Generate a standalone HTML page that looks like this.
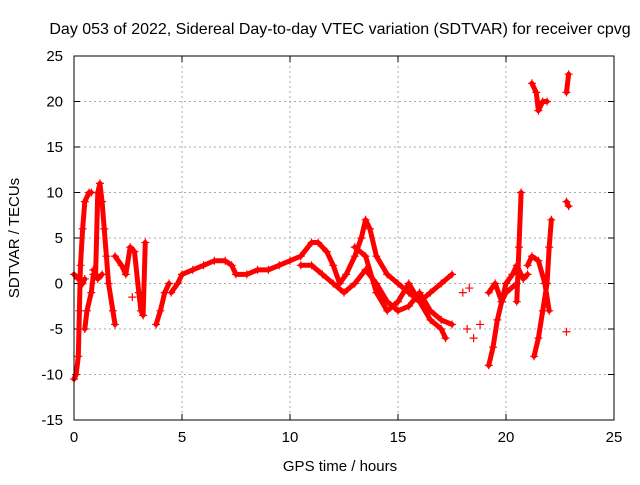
<!DOCTYPE html>
<html><head><meta charset="utf-8"><style>
body{margin:0;background:#fff}
svg{font-family:"Liberation Sans",sans-serif}
</style></head><body>
<svg id="chart" width="640" height="480">
<rect width="640" height="480" fill="#fff"/>
<text x="340" y="34" font-size="16" text-anchor="middle">Day 053 of 2022, Sidereal Day-to-day VTEC variation (SDTVAR) for receiver cpvg</text>
<text x="340" y="471" font-size="15" text-anchor="middle">GPS time / hours</text>
<text x="0" y="0" font-size="15" text-anchor="middle" transform="translate(19,238) rotate(-90)">SDTVAR / TECUs</text>
<g id="grid"></g>
<g id="ticks"></g>
<g id="marks"></g>
<rect x="74" y="56" width="540" height="364" fill="none" stroke="#000"/>
</svg>
<script>
const xTicks=[0,5,10,15,20,25];
const yTicks=[-15,-10,-5,0,5,10,15,20,25];
const tracks=[
[[0,-10.5],[0.1,-10],[0.2,-8],[0.25,-3],[0.3,2],[0.4,6],[0.5,9],[0.7,10],[0.8,10]],
[[0,1],[0.2,0.5],[0.4,0],[0.5,0.5]],
[[0.5,-5],[0.6,-3],[0.8,-1],[0.9,1],[1.0,1],[1.1,10],[1.2,11],[1.3,9],[1.4,6],[1.5,3],[1.6,0],[1.8,-3],[1.9,-4.5]],
[[0.9,1.5],[1.1,0.5],[1.3,1]],
[[1.9,3],[2.2,2],[2.4,1],[2.6,4],[2.8,3.5],[3.0,-1],[3.1,-3],[3.2,-3.5],[3.3,4.5]],
[[3.8,-4.5],[4.0,-3],[4.2,-1],[4.4,0]],
[[4.5,-1],[4.8,0],[5,1],[5.5,1.5],[6,2],[6.5,2.5],[7,2.5],[7.3,2],[7.5,1],[8,1],[8.5,1.5],[9,1.5],[9.5,2],[10,2.5],[10.5,3],[11,4.5],[11.3,4.5],[11.7,3.5],[12,2],[12.3,0],[12.6,1],[13,3],[13.3,5],[13.5,7],[13.7,6],[14,3],[14.5,1],[15,0],[15.5,-1],[16,-2],[16.5,-1],[17,0],[17.5,1]],
[[10.5,2],[11,2],[11.5,1],[12,0],[12.5,-1],[13,0],[13.5,1.5],[14,0],[14.5,-2],[15,-3],[15.5,-2.5],[16,-1],[16.5,-3],[17,-4],[17.5,-4.5]],
[[13,4],[13.5,3],[14,-1],[14.5,-3],[15,-2],[15.5,0],[16,-2],[16.5,-4],[17,-5],[17.2,-6]],
[[19.2,-9],[19.4,-7],[19.6,-4],[19.8,-2],[20,0],[20.3,1],[20.5,2],[20.8,0.5],[21,1]],
[[19.2,-1],[19.5,0],[19.8,-2],[20,-1],[20.5,0]],
[[20.5,-2],[20.6,4],[20.7,10]],
[[21,2],[21.2,3],[21.5,2.5],[21.8,0],[22,-3]],
[[21.3,-8],[21.5,-6],[21.7,-3],[21.9,0],[22,4],[22.1,7]],
[[21.2,22],[21.4,21],[21.5,19],[21.7,20],[21.9,20]],
[[22.8,21],[22.9,23]],
[[22.8,9],[22.9,8.5]]
];
const sparse=[[18,-1],[18.3,-0.5],[18.2,-5],[18.5,-6],[18.8,-4.5],[22.8,-5.3],[2.7,-1.5]];
const X=v=>74+v*21.6, Y=v=>56+(25-v)*9.1;
const NS='http://www.w3.org/2000/svg';
const grid=document.getElementById('grid'),ticks=document.getElementById('ticks'),marks=document.getElementById('marks');
function mk(tag,at,parent){const e=document.createElementNS(NS,tag);for(const k in at)e.setAttribute(k,at[k]);parent.appendChild(e);return e;}
xTicks.forEach(v=>{
 if(v>0&&v<25){const g=mk('line',{x1:X(v),x2:X(v),y1:56,y2:420,stroke:'#aaa','stroke-dasharray':'2,3'},grid);
 
 }
 const t=mk('text',{x:X(v),y:442,'font-size':15,'text-anchor':'middle'},ticks);t.textContent=v;
 
 
 mk('line',{x1:X(v),x2:X(v),y1:420,y2:414,stroke:'#000'},ticks);mk('line',{x1:X(v),x2:X(v),y1:56,y2:62,stroke:'#000'},ticks);
});
yTicks.forEach(v=>{
 if(v>-15&&v<25){const g=mk('line',{x1:74,x2:614,y1:Y(v),y2:Y(v),stroke:'#aaa','stroke-dasharray':'2,3'},grid);
 
 }
 const t=mk('text',{x:63,y:Y(v)+5,'font-size':15,'text-anchor':'end'},ticks);t.textContent=v;
 
 
 mk('line',{x1:74,x2:80,y1:Y(v),y2:Y(v),stroke:'#000'},ticks);mk('line',{x1:614,x2:608,y1:Y(v),y2:Y(v),stroke:'#000'},ticks);
});
function plus(p){const x=X(p[0]),y=Y(p[1]);
 const e=mk('path',{d:`M${x-4},${y}H${x+4}M${x},${y-4}V${y+4}`,stroke:'#f00','stroke-width':1.2},marks);
 
 }
tracks.forEach(tr=>{
 const l=mk('polyline',{points:tr.map(p=>X(p[0])+','+Y(p[1])).join(' '),fill:'none',stroke:'#f00','stroke-width':5,'stroke-linejoin':'round','stroke-linecap':'round'},marks);
 
 
 tr.forEach(plus);
});
sparse.forEach(plus);
</script>
</body></html>
